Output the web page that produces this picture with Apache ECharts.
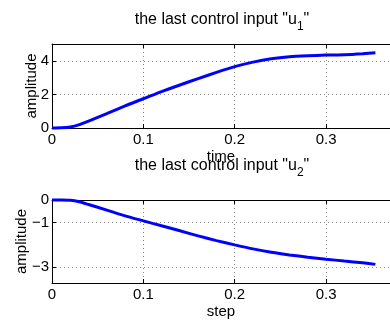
<!DOCTYPE html>
<html>
<head>
<meta charset="utf-8">
<script src="https://cdn.jsdelivr.net/npm/echarts@6/dist/echarts.min.js"></script>
<style>
html, body { margin: 0; padding: 0; background: #fff; }
#main { width: 390px; height: 320px; }
</style>
</head>
<body>
<div id="main"></div>
<script>
// values
var steps = [0, 0.01, 0.02, 0.03, 0.04, 0.06, 0.08, 0.10, 0.12, 0.14, 0.16, 0.18, 0.20, 0.22, 0.24, 0.26, 0.28, 0.30, 0.32, 0.34, 0.354];
var u1 = [0, 0.01, 0.06, 0.2, 0.41, 0.86, 1.32, 1.74, 2.17, 2.56, 2.94, 3.31, 3.65, 3.92, 4.12, 4.24, 4.30, 4.34, 4.36, 4.42, 4.48];
var u2 = [0, 0, -0.01, -0.08, -0.2, -0.45, -0.71, -0.93, -1.15, -1.37, -1.6, -1.81, -2.0, -2.18, -2.33, -2.45, -2.55, -2.64, -2.72, -2.8, -2.87];
var xTicks = [0, 0.1, 0.2, 0.3];
var u1Ticks = [0, 2, 4];
var u2Ticks = [-3, -1, 0];

var font = 'Liberation Sans';

function pairs(ys) {
    return steps.map(function (t, i) { return [t, ys[i]]; });
}

function minus(v) {
    return String(v).replace('-', '\u2212');
}

var gridLine = {show: true, lineStyle: {color: '#8a8a8a', type: [1, 3], width: 1}};
var black = {color: '#000', width: 1};
var nameStyle = {color: '#000', fontFamily: font, fontSize: 15};
var labelStyle = {color: '#000', fontFamily: font, fontSize: 15};

function bottomAxis(idx, name) {
    return {
        type: 'value', gridIndex: idx, min: 0, max: 0.37,
        name: name, nameLocation: 'middle', nameGap: 21, nameMoveOverlap: false,
        nameTextStyle: nameStyle,
        axisLine: {show: true, onZero: false, lineStyle: black},
        axisTick: {show: true, inside: true, length: 4, customValues: xTicks, lineStyle: black},
        axisLabel: Object.assign({customValues: xTicks, margin: 4}, labelStyle),
        splitLine: gridLine
    };
}

function topAxis(idx) {
    return {
        type: 'value', gridIndex: idx, position: 'top', min: 0, max: 0.37,
        axisLine: {show: true, onZero: false, lineStyle: black},
        axisTick: {show: true, inside: true, length: 4, customValues: xTicks, lineStyle: black},
        axisLabel: {show: false},
        splitLine: {show: false}
    };
}

function leftAxis(idx, min, max, ticks, gap) {
    return {
        type: 'value', gridIndex: idx, min: min, max: max,
        name: 'amplitude', nameLocation: 'middle', nameGap: gap, nameMoveOverlap: false,
        nameTextStyle: nameStyle,
        axisLine: {show: true, onZero: false, lineStyle: black},
        axisTick: {show: true, inside: true, length: 4, customValues: ticks, lineStyle: black},
        axisLabel: Object.assign({customValues: ticks, margin: 3, formatter: minus}, labelStyle),
        splitLine: gridLine
    };
}

function titleText(y, sub) {
    return {
        type: 'text', x: 222, y: y,
        style: {
            text: '{m|the last control input "u}{s|' + sub + '}{m|"}',
            align: 'center', verticalAlign: 'middle', fill: '#000',
            rich: {
                m: {fontFamily: font, fontSize: 16, lineHeight: 26, fill: '#000'},
                s: {fontFamily: font, fontSize: 12, lineHeight: 12, verticalAlign: 'bottom', fill: '#000'}
            }
        }
    };
}

function curve(idx, ys) {
    return {
        type: 'line', xAxisIndex: idx * 2, yAxisIndex: idx,
        data: pairs(ys), smooth: 0.2, showSymbol: false, clip: false,
        lineStyle: {color: '#0000ff', width: 3}
    };
}

var chart = echarts.init(document.getElementById('main'));
chart.setOption({
    animation: false,
    backgroundColor: '#fff',
    grid: [
        {left: 52, top: 44, width: 340, height: 84},
        {left: 52, top: 200, width: 340, height: 84}
    ],
    xAxis: [bottomAxis(0, 'time'), topAxis(0), bottomAxis(1, 'step'), topAxis(1)],
    yAxis: [leftAxis(0, 0, 5, u1Ticks, 13), leftAxis(1, -3.7, 0, u2Ticks, 23)],
    graphic: [titleText(20, '1'), titleText(166, '2')],
    series: [curve(0, u1), curve(1, u2)]
});
</script>
</body>
</html>
